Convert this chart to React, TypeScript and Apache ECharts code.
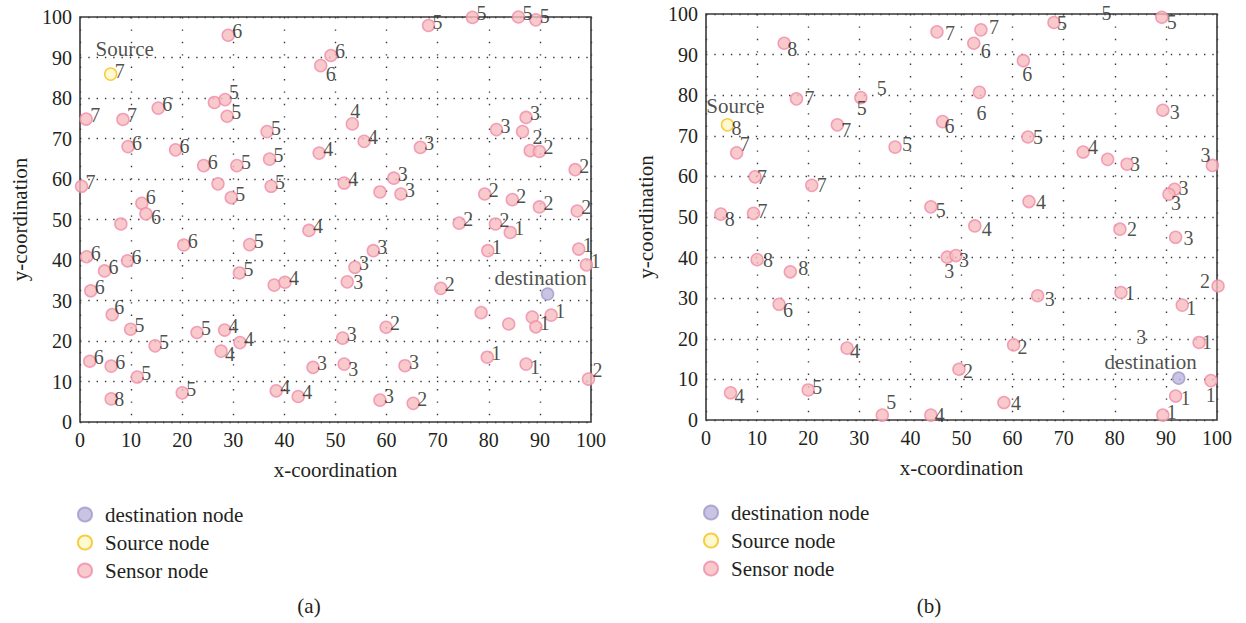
import React, { useEffect, useRef } from "react";
import * as echarts from "echarts";

type Pt = [number, number, number | null];

// ---------- Plot (a) ----------
const sensorA: Pt[] = [
  [29.0, 95.5, 6], [49.1, 90.5, 6], [47.1, 88.0, 6], [68.2, 97.9, 5], [76.8, 99.9, 5],
  [85.8, 100.0, 5], [89.2, 99.3, 5], [1.2, 74.8, 7], [8.4, 74.7, 7], [15.3, 77.5, 6],
  [26.3, 78.9, null], [28.4, 79.6, 5], [28.8, 75.5, 5], [36.6, 71.7, 5], [46.8, 66.4, 4],
  [9.4, 68.0, 6], [18.7, 67.2, 6], [24.2, 63.3, 6], [30.7, 63.3, 5], [37.1, 64.9, 5],
  [27.0, 58.8, null], [37.4, 58.2, 5], [29.6, 55.4, 5], [0.3, 58.2, 7], [12.1, 54.0, 6],
  [12.9, 51.4, 6], [8.0, 48.9, null], [20.3, 43.7, 6], [33.2, 43.8, 5], [44.8, 47.3, 4],
  [1.3, 40.8, 6], [9.3, 39.8, 6], [4.8, 37.3, 6], [31.2, 36.8, 5], [38.0, 33.8, null],
  [40.1, 34.5, 4], [2.1, 32.4, 6], [6.3, 26.5, 6], [9.9, 22.9, 5], [22.9, 22.1, 5],
  [28.3, 22.7, 4], [31.3, 19.6, 4], [27.6, 17.5, 4], [14.7, 18.8, 5], [1.9, 15.0, 6],
  [6.1, 13.8, 6], [11.2, 11.1, 5], [6.1, 5.7, 8], [20.0, 7.2, 5], [38.4, 7.7, 4],
  [42.7, 6.3, 4], [45.6, 13.5, 3], [53.3, 73.6, 4], [55.6, 69.3, 4], [66.6, 67.8, 3],
  [81.5, 72.2, 3], [87.3, 75.2, 3], [86.6, 71.7, 2], [88.1, 67.0, null], [89.9, 66.8, 2],
  [96.9, 62.3, 2], [51.7, 59.0, 4], [61.4, 60.2, 3], [58.7, 56.8, null], [62.8, 56.3, 3],
  [79.2, 56.3, 2], [84.6, 54.9, 2], [89.9, 53.1, 2], [97.3, 52.1, 2], [74.2, 49.1, 2],
  [81.3, 48.9, 2], [84.2, 46.8, 1], [79.8, 42.3, 1], [97.6, 42.7, 1], [99.1, 38.8, 1],
  [57.4, 42.3, 3], [53.8, 38.2, 3], [52.3, 34.6, 3], [70.6, 33.0, 2], [78.5, 27.0, null],
  [83.9, 24.2, null], [88.5, 25.9, null], [89.2, 23.5, 1], [92.2, 26.4, 1], [59.9, 23.4, 2],
  [51.4, 20.7, 3], [51.7, 14.3, 3], [63.6, 13.9, 3], [79.7, 16.0, 1], [87.3, 14.3, 1],
  [99.5, 10.6, 2], [58.7, 5.4, 3], [65.2, 4.6, 2],
];
const sourceA: Pt = [6.0, 85.9, 7];
const destA: Pt = [91.5, 31.6, null];

// ---------- Plot (b) ----------
const sensorB: Pt[] = [
  [15.3, 92.8, 8], [45.2, 95.6, 7], [17.7, 79.1, 7], [30.3, 79.4, 5], [25.7, 72.7, 7],
  [46.3, 73.5, 6], [37.0, 67.2, 5], [6.0, 65.8, 7], [9.6, 59.9, 7], [20.7, 57.8, 7],
  [44.0, 52.5, 5], [2.9, 50.7, 8], [9.3, 50.9, 7], [10.0, 39.5, 8], [16.5, 36.5, 8],
  [14.3, 28.5, 6], [27.6, 17.7, 4], [4.8, 6.7, 4], [20.0, 7.4, 5], [34.5, 1.2, 5],
  [44.0, 1.2, 4], [47.2, 40.1, 3], [48.9, 40.5, 3], [49.5, 12.5, 2], [53.8, 96.1, 7],
  [52.4, 92.8, 6], [68.1, 97.9, 5], [89.2, 99.2, 5], [62.1, 88.5, 6], [53.5, 80.7, 6],
  [89.4, 76.3, 3], [63.0, 69.7, 5], [73.8, 66.0, 4], [78.6, 64.2, null], [82.4, 63.0, 3],
  [99.1, 62.7, 3], [91.7, 56.8, 3], [90.6, 55.6, 3], [63.2, 53.8, 4], [52.6, 47.8, 4],
  [81.0, 47.0, 2], [91.9, 45.0, 3], [64.9, 30.6, 3], [81.2, 31.4, 1], [100.2, 33.0, 2],
  [93.2, 28.3, 1], [60.2, 18.5, 2], [96.5, 19.1, 1], [98.8, 9.7, 1], [91.9, 5.9, 1],
  [89.4, 1.2, 1], [58.3, 4.3, 4],
];
const sourceB: Pt = [4.2, 72.7, 8];
const destB: Pt = [92.5, 10.3, null];
const looseLabelsB: Pt[] = [[34.4, 81.7, 5], [78.4, 100.2, 5], [85.2, 20.4, 3]];

const legendNames = ["destination node", "Source node", "Sensor node"];

// ---------- label placement (pixel offsets of label centre from point centre) ----------
const DEFAULT_OFF_A: [number, number] = [9, -4];
const DEFAULT_OFF_B: [number, number] = [10, 0];
const placeA: [number, number, number, number][] = [
  [47.1, 88.0, 10, 8], [53.3, 73.6, 3, -13], [86.6, 71.7, 15, 5], [99.5, 10.6, 9, -9],
  [27.6, 17.5, 9, 3], [51.7, 14.3, 9, 5], [87.3, 14.3, 9, 3], [6.1, 5.7, 8, 0],
  [6.3, 26.5, 7, -8], [52.3, 34.6, 11, 0], [12.1, 54.0, 9, -6], [12.9, 51.4, 10, 3],
  [28.4, 79.6, 9, -8],
];
const placeB: [number, number, number, number][] = [
  [15.3, 92.8, 8, 6], [45.2, 95.6, 13, 1], [17.7, 79.1, 13, -1], [30.3, 79.4, 1, 10],
  [25.7, 72.7, 9, 5], [46.3, 73.5, 7, 4], [37.0, 67.2, 12, -3], [6.0, 65.8, 8, -9],
  [9.6, 59.9, 7, 0], [44.0, 52.5, 10, 3], [2.9, 50.7, 9, 5], [9.3, 50.9, 9, -2],
  [10.0, 39.5, 11, 0], [16.5, 36.5, 13, -4], [14.3, 28.5, 9, 6], [27.6, 17.7, 8, 3],
  [4.8, 6.7, 9, 3], [20.0, 7.4, 9, -3], [34.5, 1.2, 9, -13], [44.0, 1.2, 9, 0],
  [47.2, 40.1, 2, 14], [48.9, 40.5, 8, 4], [49.5, 12.5, 9, 2], [53.8, 96.1, 13, -3],
  [52.4, 92.8, 12, 8], [68.1, 97.9, 8, 0], [89.2, 99.2, 10, 5], [62.1, 88.5, 4, 13],
  [53.5, 80.7, 2, 21], [89.4, 76.3, 12, 2], [73.8, 66.0, 10, -5], [82.4, 63.0, 8, 0],
  [99.1, 62.7, -7, -10], [91.7, 56.8, 9, -1], [90.6, 55.6, 7, 9], [63.2, 53.8, 12, 0],
  [52.6, 47.8, 12, 3], [81.0, 47.0, 12, 0], [91.9, 45.0, 13, 1], [64.9, 30.6, 12, 3],
  [81.2, 31.4, 9, 0], [100.2, 33.0, -13, -5], [93.2, 28.3, 9, 3], [60.2, 18.5, 9, 2],
  [96.5, 19.1, 8, 0], [98.8, 9.7, 0, 14], [91.9, 5.9, 10, 2], [89.4, 1.2, 9, -3],
  [58.3, 4.3, 12, 0],
];

const FONT = "'Liberation Serif', 'Times New Roman', serif";
const TXT = "#231f20";
const FS = 20;
const FS_TEXT = 21;

function findOff(list: [number, number, number, number][], p: Pt, def: [number, number]): [number, number] {
  const f = list.find((q) => Math.abs(q[0] - p[0]) < 0.01 && Math.abs(q[1] - p[1]) < 0.01);
  return f ? [f[2], f[3]] : def;
}

const labelBase = {
  show: true,
  position: "inside" as const,
  fontFamily: FONT,
  fontSize: FS,
  color: TXT,
  textBorderWidth: 0,
  formatter: (p: any) => (p.value[2] == null ? "" : String(p.value[2])),
};

const sensorStyle = { color: "#F6BDBE", borderColor: "#F08BAA", borderWidth: 1.5 };
const sourceStyle = { color: "#FFF7C4", borderColor: "#F5C11A", borderWidth: 1.5 };
const destStyle = { color: "#B9B7DC", borderColor: "#A596CA", borderWidth: 1.5 };

function toItems(pts: Pt[], place: [number, number, number, number][], def: [number, number]) {
  return pts.map((p) => ({
    value: p,
    label: { show: p[2] != null, offset: findOff(place, p, def) },
  }));
}

function plotSeries(
  gi: number,
  sensors: Pt[],
  source: Pt,
  dest: Pt,
  place: [number, number, number, number][],
  def: [number, number],
  srcOff: [number, number],
  srcTextOff: [number, number],
  destTextOff: [number, number],
  loose: Pt[]
): any[] {
  const common = {
    type: "scatter",
    xAxisIndex: gi,
    yAxisIndex: gi,
    symbol: "circle",
    symbolSize: 12,
    clip: false,
    emphasis: { disabled: true },
    label: labelBase,
  };
  return [
    { ...common, name: "Sensor node", itemStyle: sensorStyle, data: toItems(sensors, place, def), z: 3 },
    {
      ...common,
      name: "Source node",
      itemStyle: sourceStyle,
      z: 4,
      data: [{ value: source, label: { show: true, offset: srcOff } }],
    },
    {
      ...common,
      name: "destination node",
      itemStyle: destStyle,
      z: 4,
      data: [{ value: dest, label: { show: false } }],
    },
    {
      ...common,
      name: "annotations",
      symbolSize: 0,
      itemStyle: { color: "transparent" },
      z: 5,
      label: { ...labelBase, formatter: "{b}" },
      data: [
        { name: "Source", value: [source[0], source[1]], label: { offset: srcTextOff, fontSize: FS_TEXT } },
        { name: "destination", value: [dest[0], dest[1]], label: { offset: destTextOff, fontSize: FS_TEXT } },
        ...loose.map((p) => ({ name: String(p[2]), value: [p[0], p[1]], label: { offset: [0, 0] } })),
      ],
    },
  ];
}

function axes(gi: number) {
  const lab = { fontFamily: FONT, fontSize: FS, color: TXT };
  const nameStyle = { fontFamily: FONT, fontSize: FS_TEXT, color: TXT };
  return {
    x: {
      type: "value",
      gridIndex: gi,
      min: 0,
      max: 100,
      interval: 10,
      name: "x-coordination",
      nameLocation: "middle",
      nameGap: 37,
      nameTextStyle: nameStyle,
      axisLine: { show: false },
      axisTick: { show: false },
      axisLabel: { ...lab, margin: 8 },
      splitLine: { show: true, lineStyle: { color: "#3a3a3a", width: 1.4, type: [1.4, 11] } },
    },
    y: {
      type: "value",
      gridIndex: gi,
      min: 0,
      max: 100,
      interval: 10,
      name: "y-coordination",
      nameLocation: "middle",
      nameGap: 50,
      nameTextStyle: nameStyle,
      axisLine: { show: false },
      axisTick: { show: false },
      axisLabel: { ...lab, margin: 8 },
      splitLine: { show: true, lineStyle: { color: "#3a3a3a", width: 1.4, type: [1.4, 6.9] } },
    },
  };
}

export default function App() {
  const ref = useRef<HTMLDivElement>(null);
  useEffect(() => {
    if (!ref.current) return;
    const chart = echarts.init(ref.current, undefined, { renderer: "svg" });
    const a0 = axes(0);
    const a1 = axes(1);
    const legendBase = {
      data: legendNames,
      orient: "vertical",
      icon: "circle",
      itemWidth: 30,
      itemHeight: 14,
      itemGap: 7,
      selectedMode: false,
      textStyle: { fontFamily: FONT, fontSize: FS_TEXT, color: TXT },
    };
    chart.setOption({
      animation: false,
      backgroundColor: "#ffffff",
      grid: [
        { left: 80, top: 17, width: 511, height: 405, show: true, borderColor: "#3a3a3a", borderWidth: 1.6, backgroundColor: "transparent" },
        { left: 706, top: 14, width: 511, height: 406, show: true, borderColor: "#3a3a3a", borderWidth: 1.6, backgroundColor: "transparent" },
      ],
      xAxis: [a0.x, a1.x],
      yAxis: [a0.y, a1.y],
      legend: [
        { ...legendBase, left: 72, top: 499 },
        { ...legendBase, left: 698, top: 497 },
      ],
      graphic: [
        { type: "text", x: 309, y: 606, style: { text: "(a)", fontFamily: FONT, fontSize: FS_TEXT, fill: TXT, align: "center", verticalAlign: "middle" } },
        { type: "text", x: 929, y: 606, style: { text: "(b)", fontFamily: FONT, fontSize: FS_TEXT, fill: TXT, align: "center", verticalAlign: "middle" } },
      ],
      series: [
        ...plotSeries(0, sensorA, sourceA, destA, placeA, DEFAULT_OFF_A, [9, -3], [14, -25], [-7, -16], []),
        ...plotSeries(1, sensorB, sourceB, destB, placeB, DEFAULT_OFF_B, [9, 3], [8, -19], [-28, -16], looseLabelsB),
      ],
    });
    return () => chart.dispose();
  }, []);
  return <div ref={ref} style={{ position: "fixed", left: 0, top: 0, width: 1246, height: 623 }} />;
}
